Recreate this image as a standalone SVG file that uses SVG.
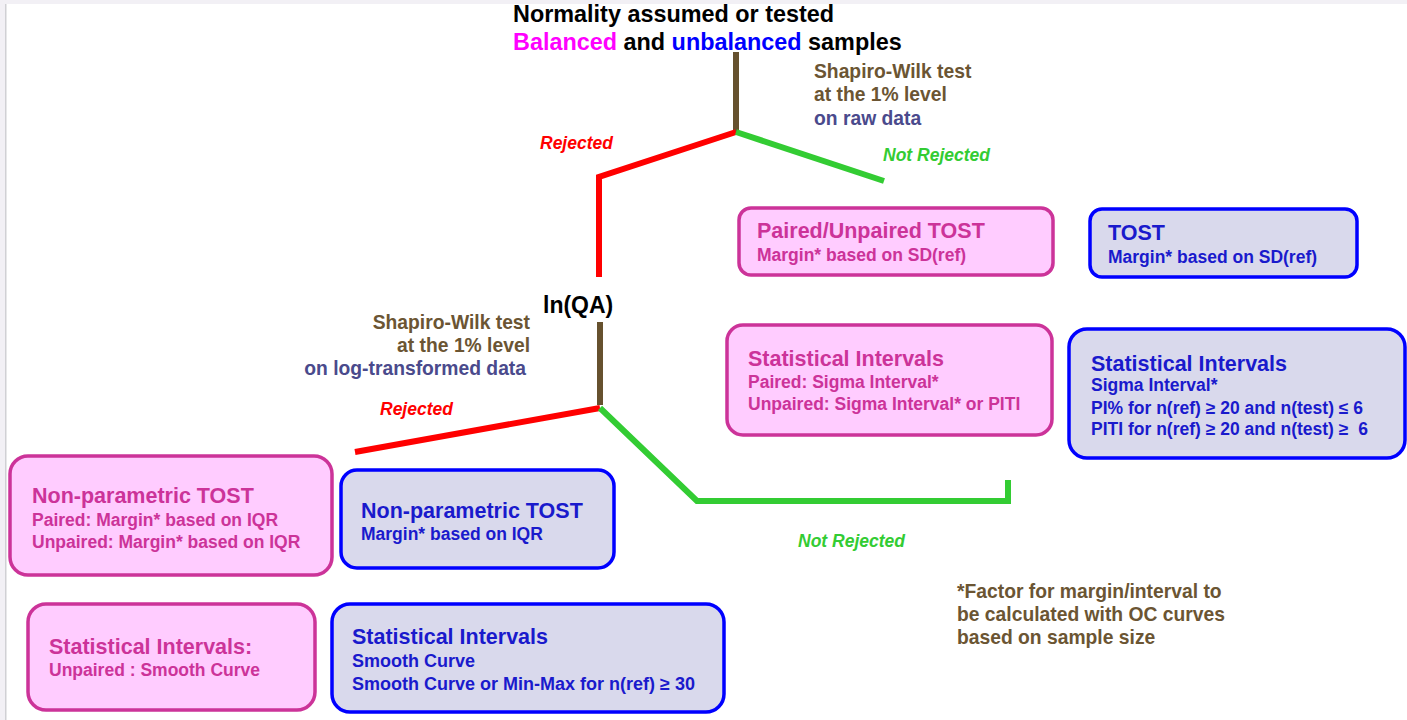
<svg xmlns="http://www.w3.org/2000/svg" width="1407" height="720" viewBox="0 0 1407 720">
<style>
text{font-family:"Liberation Sans",Arial,sans-serif;font-weight:bold}
.pk rect{fill:#ffccff;stroke:#cc3399;stroke-width:3.5}
.pk text{fill:#cc3399}
.bl rect{fill:#d9d9ec;stroke:#0000ff;stroke-width:3.5}
.bl text{fill:#1a1acc}
.t{font-size:21.5px}
.s{font-size:17.5px}
.lab{font-size:19.3px;fill:#6b5533}
.lab2{font-size:19.3px;fill:#4a4a8c}
.rej{font-size:17.5px;font-style:italic;fill:#ff0000}
.nrej{font-size:17.5px;font-style:italic;fill:#33cc33}
.br{stroke:#66512e;stroke-width:6;fill:none}
.rd{stroke:#ff0000;stroke-width:6;fill:none}
.gr{stroke:#33cc33;stroke-width:6;fill:none}
</style>
<rect x="0" y="0" width="1407" height="720" fill="#ffffff"/>
<rect x="0" y="0" width="1407" height="4" fill="#f2f0f5"/>
<rect x="0" y="0" width="5" height="720" fill="#f2f0f5"/>
<rect x="5" y="4" width="1.5" height="716" fill="#d0d0d4"/>

<g id="title">
<text x="513" y="22" style="font-size:23.4px" fill="#000">Normality assumed or tested</text>
<text x="513" y="50" style="font-size:23.4px" fill="#000"><tspan fill="#ff00ff">Balanced</tspan> and <tspan fill="#0000ff">unbalanced</tspan> samples</text>
</g>

<g id="connectors">
<polyline class="br" points="736,52 736,132"/>
<polyline class="rd" points="736,132 599,177 599,277"/>
<polyline class="gr" points="736,132 884,181"/>
<polyline class="br" points="600,322 600,405"/>
<polyline class="rd" points="600,408 355,452"/>
<polyline class="gr" points="600,408 697,501 1008,501 1008,480"/>
</g>

<g id="labels">
<text class="lab" x="814" y="78">Shapiro-Wilk test</text>
<text class="lab" x="814" y="101">at the 1% level</text>
<text class="lab2" x="814" y="125">on raw data</text>
<text class="rej" x="540" y="149">Rejected</text>
<text class="nrej" x="883" y="161">Not Rejected</text>
<text x="543" y="313" style="font-size:23px" fill="#000">ln(QA)</text>
<text class="lab" x="530" y="329" text-anchor="end">Shapiro-Wilk test</text>
<text class="lab" x="530" y="352" text-anchor="end">at the 1% level</text>
<text class="lab2" x="526" y="375" text-anchor="end">on log-transformed data</text>
<text class="rej" x="380" y="415">Rejected</text>
<text class="nrej" x="798" y="547">Not Rejected</text>
</g>

<g id="n1" class="pk">
<rect x="739" y="208" width="314" height="67" rx="12"/>
<text class="t" x="757" y="238">Paired/Unpaired TOST</text>
<text class="s" x="757" y="261">Margin* based on SD(ref)</text>
</g>
<g id="n2" class="bl">
<rect x="1090" y="209" width="267" height="68" rx="12"/>
<text class="t" x="1108" y="240">TOST</text>
<text class="s" x="1108" y="263">Margin* based on SD(ref)</text>
</g>
<g id="n3" class="pk">
<rect x="727" y="325" width="325" height="110" rx="16"/>
<text class="t" x="748" y="366">Statistical Intervals</text>
<text class="s" x="748" y="388">Paired: Sigma Interval*</text>
<text class="s" x="748" y="410">Unpaired: Sigma Interval* or PITI</text>
</g>
<g id="n4" class="bl">
<rect x="1069" y="329" width="336" height="129" rx="18"/>
<text class="t" x="1091" y="371">Statistical Intervals</text>
<text class="s" x="1091" y="391">Sigma Interval*</text>
<text class="s" x="1091" y="414">PI% for n(ref) ≥ 20 and n(test) ≤ 6</text>
<text class="s" x="1091" y="435">PITI for n(ref) ≥ 20 and n(test) ≥&#160; 6</text>
</g>
<g id="n5" class="pk">
<rect x="10" y="456" width="322" height="119" rx="18"/>
<text class="t" x="32" y="503">Non-parametric TOST</text>
<text class="s" x="32" y="526">Paired: Margin* based on IQR</text>
<text class="s" x="32" y="548">Unpaired: Margin* based on IQR</text>
</g>
<g id="n6" class="bl">
<rect x="341" y="470" width="273" height="98" rx="16"/>
<text class="t" x="361" y="518">Non-parametric TOST</text>
<text class="s" x="361" y="540">Margin* based on IQR</text>
</g>
<g id="n7" class="pk">
<rect x="28" y="604" width="287" height="106" rx="18"/>
<text class="t" x="49" y="654">Statistical Intervals:</text>
<text class="s" x="49" y="676">Unpaired : Smooth Curve</text>
</g>
<g id="n8" class="bl">
<rect x="332" y="604" width="392" height="108" rx="18"/>
<text class="t" x="352" y="644">Statistical Intervals</text>
<text class="s" x="352" y="667" style="font-size:18px">Smooth Curve</text>
<text class="s" x="352" y="690" style="font-size:18px">Smooth Curve or Min-Max for n(ref) ≥ 30</text>
</g>

<g id="footnote">
<text class="lab" x="957" y="598">*Factor for margin/interval to</text>
<text class="lab" x="957" y="621">be calculated with OC curves</text>
<text class="lab" x="957" y="644">based on sample size</text>
</g>
</svg>
